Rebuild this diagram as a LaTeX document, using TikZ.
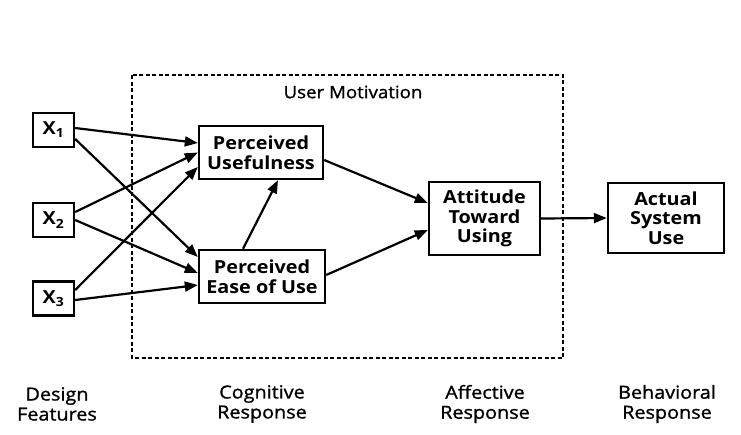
\documentclass[tikz,border=0pt]{standalone}
\usepackage{fontspec}
\setmainfont{Open Sans}[FakeStretch=1.1]
\newfontfamily\medfamily{Open Sans}[FakeStretch=1.1,FakeBold=1.2]
\usetikzlibrary{arrows.meta}
\newcommand{\boxfont}{\fontsize{18}{19.5}\selectfont\bfseries}
\newcommand{\labfont}{\medfamily\fontsize{18}{20}\selectfont}
\tikzset{
	box/.style={draw,line width=2.4pt,inner sep=0pt,align=center,font=\boxfont},
	xbox/.style={box,minimum width=41pt,minimum height=34pt},
	arr/.style={line width=2.2pt,-{Triangle[length=13pt,width=10pt]}},
	lab/.style={align=center,font=\labfont},
	dashbox/.style={line width=1.3pt,dash pattern=on 4pt off 2.5pt}
}
\begin{document}
\begin{tikzpicture}[x=1pt,y=-1pt]
	\useasboundingbox (0,0) rectangle (741,434);
	\draw[dashbox] (132,75) rectangle (563,358);
	\node[font=\medfamily\fontsize{17}{18}\selectfont] (motiv) at (353,92) {User Motivation};
	\node[xbox] (x1) at (53.5,130) {X\textsubscript{1}};
	\node[xbox] (x2) at (53.5,220) {X\textsubscript{2}};
	\node[xbox] (x3) at (53.5,298.5) {X\textsubscript{3}};
	\node[box,minimum width=124pt,minimum height=53pt] (pu) at (261,152.5) {Perceived\\Usefulness};
	\node[box,minimum width=126pt,minimum height=53pt] (peou) at (262,276.5) {Perceived\\Ease of Use};
	\node[box,minimum width=111pt,minimum height=73pt] (atu) at (484.5,218.5) {Attitude\\Toward\\Using};
	\node[box,minimum width=116pt,minimum height=70pt] (asu) at (666,218) {Actual\\System\\Use};
	\draw[arr] ([yshift=2pt]x1.east) -- ([yshift=9.5pt]pu.west);
	\draw[arr] ([yshift=-9pt]x1.east) -- ([yshift=19.5pt]peou.west);
	\draw[arr] ([yshift=8pt]x2.east) -- ([yshift=0pt]pu.west);
	\draw[arr] (x2.east) -- ([yshift=3.5pt]peou.west);
	\draw[arr] ([yshift=8.5pt]x3.east) -- ([yshift=-14.5pt]pu.west);
	\draw[arr] ([yshift=-1.5pt]x3.east) -- ([yshift=-8.5pt]peou.west);
	\draw[arr] ([xshift=-19pt]peou.north) -- ([xshift=17pt]pu.south);
	\draw[arr] ([yshift=-7.5pt]pu.east) -- ([yshift=15.5pt]atu.west);
	\draw[arr] ([yshift=1.5pt]peou.east) -- ([yshift=-11.5pt]atu.west);
	\draw[arr] (atu.east) -- (asu.west);
	\node[lab] (design) at (57,404) {Design\\Features};
	\node[lab] (cognitive) at (262,404) {Cognitive\\Response};
	\node[lab] (affective) at (485,404) {Affective\\Response};
	\node[lab] (behavioral) at (667,404) {Behavioral\\Response};
\end{tikzpicture}
\end{document}
